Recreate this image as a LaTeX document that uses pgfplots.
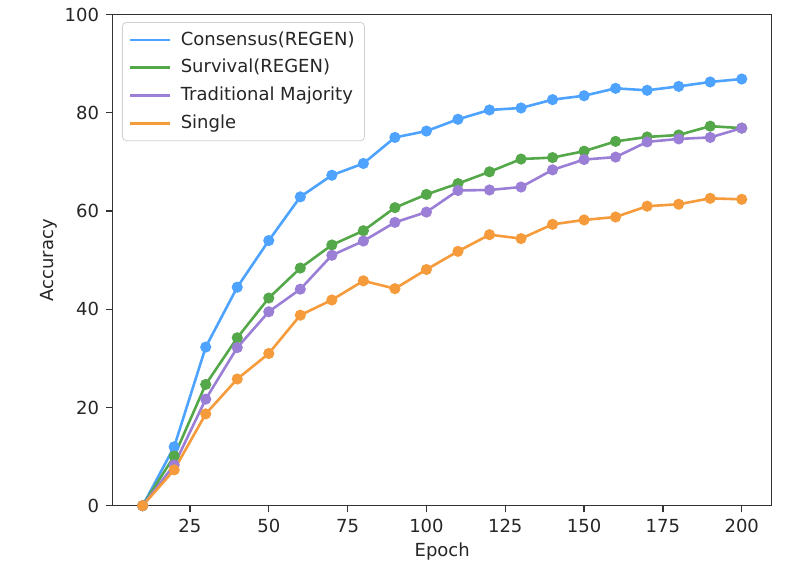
\documentclass[border=0pt]{standalone}
\usepackage{fontspec}
\setmainfont{DejaVu Sans}
\usepackage{pgfplots}
\pgfplotsset{compat=1.18}

\definecolor{cblue}{HTML}{4DA3FF}
\definecolor{cgreen}{HTML}{55A84A}
\definecolor{cpurple}{HTML}{9B7FD6}
\definecolor{corange}{HTML}{F59B3B}
\definecolor{frame}{HTML}{333333}

\begin{document}
\begin{tikzpicture}
\begin{axis}[
    name=ax,
    scale only axis,
    width=329.5pt, height=245.5pt,
    xmin=0.5, xmax=209.5,
    ymin=0, ymax=100,
    xtick={25,50,75,100,125,150,175,200},
    ytick={0,20,40,60,80,100},
    tick pos=left,
    tick align=outside,
    major tick length=3.3pt,
    every tick/.style={frame, line width=0.6pt},
    axis line style={frame, line width=0.7pt},
    font=\fontsize{9}{11}\selectfont,
    ticklabel style={font=\fontsize{9}{11}\selectfont, text=black!85},
    /pgf/number format/assume math mode=true,
    xlabel={Epoch}, ylabel={Accuracy},
    label style={text=black!85},
    xlabel style={yshift=2pt},
    ylabel style={yshift=-3pt},
    legend cell align=left,
    legend style={
        at={(0.0141,0.985)}, anchor=north west,
        draw=black!18, rounded corners=2pt,
        fill=white, fill opacity=0.8, text opacity=1,
        font=\fontsize{9}{11}\selectfont,
        row sep=1.6pt, inner xsep=3pt, inner ysep=2.5pt,
        nodes={text=black!85},
        /tikz/every odd column/.append style={column sep=3pt},
    },
    legend image code/.code={\draw[#1, line width=1.2pt] (0pt,0pt) -- (20pt,0pt);},
    every axis plot/.append style={line width=1.3pt, mark=*, mark size=2.1pt},
]
\addplot[color=cblue, mark options={fill=cblue, draw=cblue}] coordinates {
(10,0) (20,12.0) (30,32.3) (40,44.5) (50,54.0) (60,62.9) (70,67.3) (80,69.7)
(90,75.0) (100,76.3) (110,78.7) (120,80.6) (130,81.0) (140,82.7) (150,83.5)
(160,85.0) (170,84.6) (180,85.4) (190,86.3) (200,86.9)
};
\addlegendentry{Consensus(REGEN)}

\addplot[color=cgreen, mark options={fill=cgreen, draw=cgreen}] coordinates {
(10,0) (20,10.1) (30,24.7) (40,34.2) (50,42.3) (60,48.4) (70,53.1) (80,56.0)
(90,60.7) (100,63.4) (110,65.6) (120,68.0) (130,70.6) (140,70.9) (150,72.2)
(160,74.2) (170,75.1) (180,75.5) (190,77.3) (200,76.9)
};
\addlegendentry{Survival(REGEN)}

\addplot[color=cpurple, mark options={fill=cpurple, draw=cpurple}] coordinates {
(10,0) (20,8.3) (30,21.7) (40,32.2) (50,39.5) (60,44.1) (70,51.0) (80,53.9)
(90,57.7) (100,59.8) (110,64.2) (120,64.3) (130,64.9) (140,68.4) (150,70.5)
(160,71.0) (170,74.1) (180,74.7) (190,75.0) (200,76.9)
};
\addlegendentry{Traditional Majority}

\addplot[color=corange, mark options={fill=corange, draw=corange}] coordinates {
(10,0) (20,7.3) (30,18.7) (40,25.8) (50,31.0) (60,38.8) (70,41.9) (80,45.8)
(90,44.2) (100,48.1) (110,51.8) (120,55.2) (130,54.4) (140,57.3) (150,58.2)
(160,58.8) (170,61.0) (180,61.4) (190,62.6) (200,62.4)
};
\addlegendentry{Single}
\end{axis}
\path (ax.south west) ++(-56.35pt,-30.65pt) rectangle ++(394pt,283.5pt);
\end{tikzpicture}
\end{document}
